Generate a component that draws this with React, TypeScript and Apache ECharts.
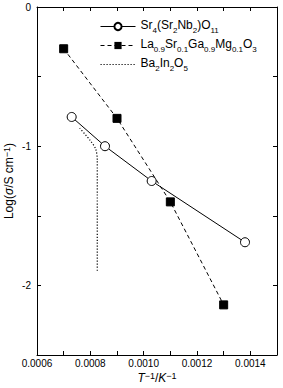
import React, { useEffect, useRef } from "react";
import * as echarts from "echarts";

const srNames = "Sr_4(Sr_2Nb_2)O_11";
const laName = "La_0.9Sr_0.1Ga_0.9Mg_0.1O_3";
const baName = "Ba_2In_2O_5";

const srX = [0.00073, 0.000855, 0.00103, 0.00138];
const srY = [-0.79, -1.0, -1.25, -1.69];
const laX = [0.0007, 0.0009, 0.0011, 0.0013];
const laY = [-0.3, -0.8, -1.4, -2.14];
const baX = [0.00076, 0.0008, 0.00082, 0.000826, 0.000826];
const baY = [-0.87, -0.96, -1.02, -1.1, -1.9];

const xTicks = ["0.0006", "0.0008", "0.0010", "0.0012", "0.0014"];
const yTicks = ["0", "-1", "-2"];

const FONT = "Liberation Sans, Arial, sans-serif";

function toRich(s: string): string {
  const re = /_([0-9.]+)/g;
  let out = "";
  let last = 0;
  let m: RegExpExecArray | null;
  while ((m = re.exec(s)) !== null) {
    if (m.index > last) out += "{n|" + s.slice(last, m.index) + "}";
    out += "{s|" + m[1] + "}";
    last = m.index + m[0].length;
  }
  if (last < s.length) out += "{n|" + s.slice(last) + "}";
  return out;
}

export default function App() {
  const ref = useRef<HTMLDivElement>(null);
  useEffect(() => {
    if (!ref.current) return;
    const chart = echarts.init(ref.current, null, { renderer: "svg" });
    const pairs = (xs: number[], ys: number[]) => xs.map((x, i) => [x, ys[i]]);
    const axisCommon = {
      axisLine: { show: true, onZero: false, lineStyle: { color: "#000", width: 1 } },
      splitLine: { show: false },
    };
    const nameRich = {
      i: { fontSize: 12, fontStyle: "italic", fontFamily: FONT, color: "#000", lineHeight: 13, verticalAlign: "bottom" },
      n: { fontSize: 12, fontFamily: FONT, color: "#000", lineHeight: 13, verticalAlign: "bottom" },
      sup: { fontSize: 9, fontFamily: FONT, color: "#000", lineHeight: 13, verticalAlign: "top" },
    };
    chart.setOption({
      animation: false,
      backgroundColor: "#fff",
      textStyle: { fontFamily: FONT },
      grid: { left: 37, right: 6, top: 7, bottom: 33, containLabel: false, outerBoundsMode: "none" },
      legend: {
        left: 95,
        top: 14,
        orient: "vertical",
        itemWidth: 35,
        itemHeight: 9,
        itemGap: 4,
        lineStyle: { width: 1 },
        data: [srNames, laName, { name: baName, itemStyle: { opacity: 0 } }],
        formatter: (name: string) => toRich(name),
        textStyle: {
          color: "#000",
          fontFamily: FONT,
          rich: {
            n: { fontSize: 12, fontFamily: FONT, color: "#000", lineHeight: 15, verticalAlign: "top" },
            s: { fontSize: 8, fontFamily: FONT, color: "#000", lineHeight: 15, verticalAlign: "bottom" },
          },
        },
      },
      xAxis: [
        {
          type: "value",
          min: 0.0006,
          max: 0.0015,
          interval: 0.0001,
          ...axisCommon,
          axisTick: { show: true, inside: true, length: 4, lineStyle: { color: "#000" } },
          axisLabel: {
            color: "#000",
            fontSize: 10,
            fontFamily: FONT,
            margin: 3,
            formatter: (v: number) => {
              const k = Math.round(v * 10000);
              if (k % 2 !== 0 || k > 14) return "";
              return xTicks[(k - 6) / 2] ?? "";
            },
          },
          name: "{i|T}{sup|−1}{n|/}{i|K}{sup|−1}",
          nameLocation: "middle",
          nameGap: 16,
          nameMoveOverlap: false,
          nameTextStyle: { rich: nameRich },
        },
        {
          type: "value",
          position: "top",
          min: 0.0006,
          max: 0.0015,
          interval: 0.0001,
          ...axisCommon,
          axisTick: { show: true, inside: true, length: 4, lineStyle: { color: "#000" } },
          axisLabel: { show: false },
        },
      ],
      yAxis: [
        {
          type: "value",
          min: -2.5,
          max: 0,
          interval: 0.5,
          ...axisCommon,
          axisTick: { show: true, inside: true, length: 4, lineStyle: { color: "#000" } },
          axisLabel: {
            color: "#000",
            fontSize: 10,
            fontFamily: FONT,
            margin: 6,
            formatter: (v: number) => {
              if (Math.abs(v - Math.round(v)) > 1e-6) return "";
              const k = -Math.round(v);
              return yTicks[k] ?? "";
            },
          },
          name: "{n|Log(}{i|σ}{n|/S cm}{sup|−1}{n|)}",
          nameLocation: "middle",
          nameGap: 22,
          nameMoveOverlap: false,
          nameTextStyle: { rich: nameRich },
        },
        {
          type: "value",
          position: "right",
          min: -2.5,
          max: 0,
          interval: 0.5,
          ...axisCommon,
          axisTick: { show: true, inside: true, length: 4, lineStyle: { color: "#000" } },
          axisLabel: { show: false },
        },
      ],
      series: [
        {
          name: srNames,
          type: "line",
          data: pairs(srX, srY),
          symbol: "circle",
          symbolSize: 9,
          lineStyle: { color: "#000", width: 1, type: "solid" },
          itemStyle: { color: "#fff", borderColor: "#000", borderWidth: 1 },
          z: 3,
        },
        {
          name: laName,
          type: "line",
          data: pairs(laX, laY),
          symbol: "rect",
          symbolSize: 8,
          lineStyle: { color: "#000", width: 1, type: [4, 3] },
          itemStyle: { color: "#000", borderColor: "#000" },
          z: 3,
        },
        {
          name: baName,
          type: "line",
          data: pairs(baX, baY),
          symbol: "none",
          smooth: 0.3,
          lineStyle: { color: "#000", width: 1.2, type: [1.2, 1.8] },
          itemStyle: { color: "#000" },
          z: 2,
        },
      ],
    });
    return () => chart.dispose();
  }, []);
  return <div ref={ref} style={{ width: 283, height: 388, position: "absolute", left: 0, top: 0 }} />;
}
